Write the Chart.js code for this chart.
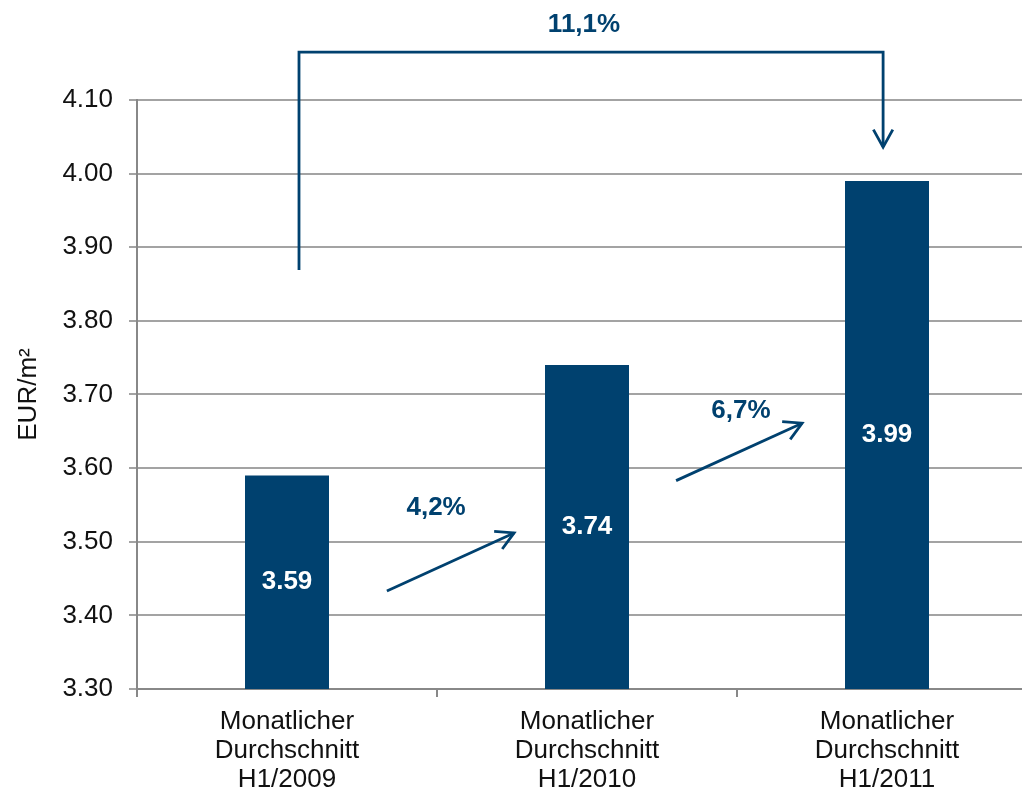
<!DOCTYPE html>
<html>
<head>
<meta charset="utf-8">
<script src="https://cdn.jsdelivr.net/npm/chart.js@4/dist/chart.umd.min.js"></script>
<style>
  html, body { margin: 0; padding: 0; background: #fff; overflow: hidden; }
  #wrap { width: 1040px; height: 795px; }
</style>
</head>
<body>
<div id="wrap"><canvas id="chart" width="1040" height="795"></canvas></div>
<script>
// data
const categories = [
    ['Monatlicher', 'Durchschnitt', 'H1/2009'],
    ['Monatlicher', 'Durchschnitt', 'H1/2010'],
    ['Monatlicher', 'Durchschnitt', 'H1/2011']
];
const values = [3.59, 3.74, 3.99];
const yMin = 3.30;
const yMax = 4.10;
const yStep = 0.10;
const axisTitle = 'EUR/m²';

// growth arrows between bars (index a -> b), positions in category / value units
const growthArrows = [
    { a: 0, b: 1, from: [0.333, 3.433], to: [0.757, 3.512], label: [0.497, 3.546] },
    { a: 1, b: 2, from: [1.297, 3.583], to: [1.717, 3.661], label: [1.513, 3.678] }
];
const totalBracket = { a: 0, b: 2, x1: 0.04, x2: 1.987, yStart: 3.869, yTop: 4.165, yEnd: 4.036, label: [0.99, 4.202] };

const BLUE = '#00416f';
const FONT = "'Liberation Sans', Arial, sans-serif";

function pctText(a, b) {
    return ((values[b] / values[a] - 1) * 100).toFixed(1).replace('.', ',') + '%';
}

function drawArrowHead(ctx, x0, y0, x1, y1) {
    const ang = Math.atan2(y0 - y1, x0 - x1);
    const len = 20, spread = Math.PI / 6.2;
    ctx.beginPath();
    ctx.moveTo(x1 + len * Math.cos(ang - spread), y1 + len * Math.sin(ang - spread));
    ctx.lineTo(x1, y1);
    ctx.lineTo(x1 + len * Math.cos(ang + spread), y1 + len * Math.sin(ang + spread));
    ctx.stroke();
}

const annotations = {
    id: 'annotations',
    afterDraw(chart) {
        const { ctx } = chart;
        const x = chart.scales.x, y = chart.scales.y;
        const px = v => x.getPixelForValue(0) + v * (x.getPixelForValue(1) - x.getPixelForValue(0));
        const py = v => y.getPixelForValue(v);

        ctx.save();
        // value labels inside bars
        ctx.fillStyle = '#ffffff';
        ctx.font = 'bold 26px ' + FONT;
        ctx.textAlign = 'center';
        ctx.textBaseline = 'middle';
        values.forEach((v, i) => {
            const top = py(v), base = py(yMin);
            ctx.fillText(v.toFixed(2), px(i), (top + base) / 2);
        });

        ctx.strokeStyle = BLUE;
        ctx.fillStyle = BLUE;
        ctx.lineWidth = 2.8;
        ctx.lineCap = 'butt';
        ctx.lineJoin = 'miter';

        // growth arrows
        growthArrows.forEach(g => {
            const x0 = px(g.from[0]), y0 = py(g.from[1]);
            const x1 = px(g.to[0]), y1 = py(g.to[1]);
            ctx.beginPath();
            ctx.moveTo(x0, y0);
            ctx.lineTo(x1, y1);
            ctx.stroke();
            drawArrowHead(ctx, x0, y0, x1, y1);
            ctx.fillText(pctText(g.a, g.b), px(g.label[0]), py(g.label[1]));
        });

        // total bracket
        const b = totalBracket;
        ctx.beginPath();
        ctx.moveTo(px(b.x1), py(b.yStart));
        ctx.lineTo(px(b.x1), py(b.yTop));
        ctx.lineTo(px(b.x2), py(b.yTop));
        ctx.lineTo(px(b.x2), py(b.yEnd));
        ctx.stroke();
        drawArrowHead(ctx, px(b.x2), py(b.yTop), px(b.x2), py(b.yEnd));
        ctx.fillText(pctText(b.a, b.b), px(b.label[0]), py(b.label[1]));
        ctx.restore();
    }
};

new Chart(document.getElementById('chart'), {
    type: 'bar',
    data: {
        labels: categories,
        datasets: [{
            data: values,
            backgroundColor: BLUE,
            borderWidth: 0,
            barPercentage: 0.28,
            categoryPercentage: 1
        }]
    },
    options: {
        responsive: false,
        animation: false,
        layout: { padding: { top: 100, right: 3, bottom: 0, left: 0 } },
        plugins: {
            legend: { display: false },
            tooltip: { enabled: false }
        },
        scales: {
            x: {
                grid: { drawOnChartArea: false, drawTicks: true, tickLength: 8, color: '#888', lineWidth: 2 },
                border: { color: '#888', width: 2 },
                ticks: { color: '#111', font: { family: FONT, size: 26, lineHeight: 1.12 }, padding: 10, maxRotation: 0 },
                afterFit(scale) { scale.height = 106; }
            },
            y: {
                min: yMin,
                max: yMax,
                grid: { color: '#a3a3a3', lineWidth: 2, tickLength: 8 },
                border: { color: '#888', width: 2 },
                ticks: {
                    stepSize: yStep,
                    color: '#111',
                    font: { family: FONT, size: 26 },
                    padding: 16,
                    callback: v => v.toFixed(2)
                },
                title: {
                    display: true,
                    text: axisTitle,
                    color: '#111',
                    font: { family: FONT, size: 26 },
                    padding: { top: 13, bottom: 0 }
                },
                afterFit(scale) { scale.width = 137; }
            }
        }
    },
    plugins: [annotations]
});
</script>
</body>
</html>
